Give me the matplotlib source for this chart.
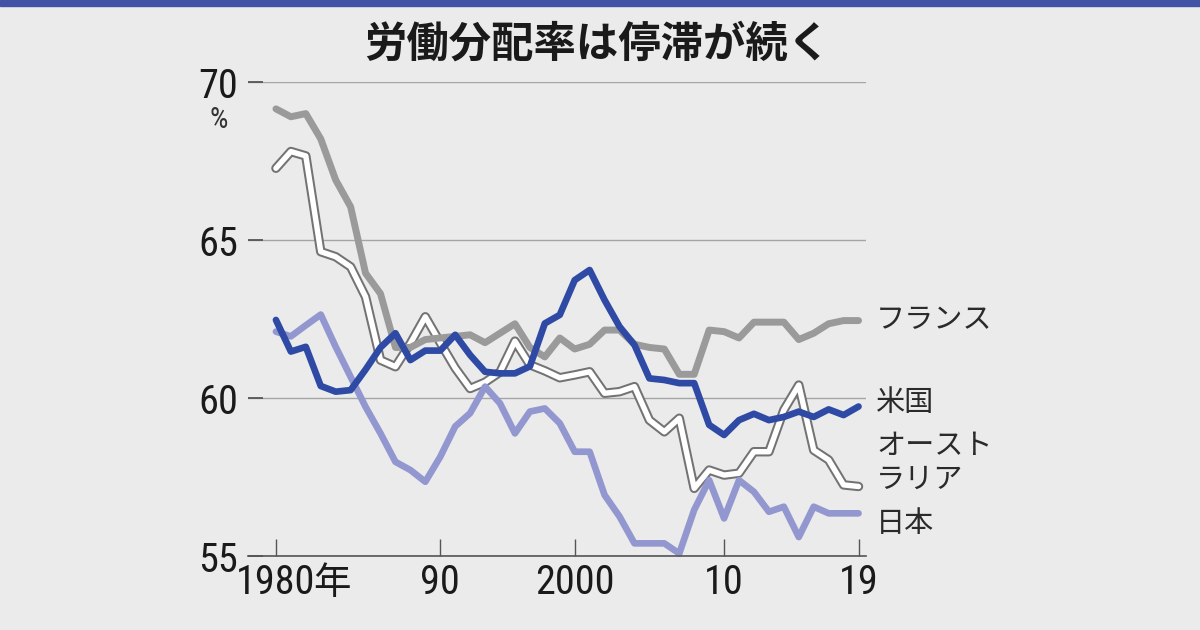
import matplotlib
matplotlib.use("Agg")
import matplotlib.pyplot as plt
from matplotlib import font_manager
from matplotlib.patches import Rectangle

years = list(range(1980, 2020))

france = [69.15, 68.9, 69.0, 68.2, 66.9, 66.05, 63.95, 63.3, 61.6, 61.6,
          61.85, 61.9, 61.95, 62.0, 61.75, 62.05, 62.35, 61.6, 61.3, 61.9,
          61.55, 61.7, 62.15, 62.15, 61.7, 61.6, 61.55, 60.75, 60.75, 62.15,
          62.1, 61.9, 62.4, 62.4, 62.4, 61.85, 62.05, 62.35, 62.45, 62.45]

usa = [62.47, 61.47, 61.62, 60.38, 60.2, 60.25, 60.9, 61.6, 62.05, 61.2,
       61.5, 61.5, 62.0, 61.36, 60.83, 60.78, 60.78, 61.0, 62.36, 62.63,
       63.73, 64.05, 63.1, 62.26, 61.68, 60.62, 60.57, 60.47, 60.47, 59.15,
       58.83, 59.3, 59.5, 59.3, 59.4, 59.57, 59.4, 59.64, 59.46, 59.73]

australia = [67.27, 67.8, 67.66, 64.63, 64.47, 64.15, 63.2, 61.2, 60.99, 61.73,
             62.57, 61.75, 60.95, 60.3, 60.5, 60.82, 61.8, 61.05, 60.86, 60.64,
             60.73, 60.83, 60.15, 60.2, 60.36, 59.3, 58.93, 59.36, 57.14, 57.72,
             57.56, 57.62, 58.3, 58.3, 59.62, 60.41, 58.35, 58.04, 57.25, 57.2]

japan = [62.1, 61.95, 62.3, 62.64, 61.62, 60.67, 59.72, 58.88, 57.98, 57.72,
         57.35, 58.14, 59.1, 59.52, 60.36, 59.83, 58.88, 59.57, 59.67, 59.2,
         58.3, 58.3, 56.93, 56.25, 55.4, 55.4, 55.4, 55.08, 56.46, 57.4,
         56.19, 57.4, 57.03, 56.4, 56.56, 55.6, 56.56, 56.35, 56.35, 56.35]

y_ticks = [55, 60, 65, 70]
x_tick_pos = [1980, 1991, 2000, 2010, 2019]
x_tick_labels = ["1980", "90", "2000", "10", "19"]

title = "労働分配率は停滞が続く"

# pick a narrow sans for the digits if one is there
installed = {f.name for f in font_manager.fontManager.ttflist}
num_font = "DejaVu Sans"
for cand in ["Liberation Sans Narrow", "Roboto Condensed", "Open Sans", "Noto Sans"]:
    if cand in installed:
        num_font = cand
        break
jp_font = "Noto Sans CJK JP"
plt.rcParams["font.family"] = [num_font, jp_font, "DejaVu Sans"]

bg = "#ebebeb"
fig = plt.figure(figsize=(12, 6.3), dpi=100, facecolor=bg)
ax = fig.add_axes([248 / 1200, 1 - 556 / 630, 618 / 1200, 474 / 630])
ax.set_facecolor(bg)

# blue band at the very top
fig.patches.append(Rectangle((0, 1 - 6 / 630), 1, 6 / 630, transform=fig.transFigure,
                             color="#4253a6", zorder=0))

for y in y_ticks:
    ax.axhline(y, color="#a5a5a5", lw=1.0, zorder=1)

kw = dict(solid_capstyle="round", solid_joinstyle="round", clip_on=False)
# australia: white line with a gray rim
ax.plot(years, australia, color="#737373", lw=6.8, zorder=2, **kw)
ax.plot(years, australia, color="white", lw=3.9, zorder=2.1, **kw)
ax.plot(years, france, color="#9a9a9a", lw=5.0, zorder=3, **kw)
ax.plot(years, japan, color="#9397d0", lw=4.8, zorder=4, **kw)
ax.plot(years, usa, color="#2f4aa4", lw=4.8, zorder=5, **kw)

ax.set_xlim(1978.13, 2019.5)
ax.set_ylim(55, 70)

for s in ["top", "right", "left"]:
    ax.spines[s].set_visible(False)
ax.spines["bottom"].set_color("#555555")
ax.spines["bottom"].set_linewidth(1.2)
ax.spines["bottom"].set_zorder(6)

ax.set_yticks(y_ticks)
ax.set_yticklabels([str(v) for v in y_ticks])
ax.tick_params(axis="y", direction="in", length=11, width=1.3, color="#555555",
               pad=7, labelsize=29, labelcolor="#1a1a1a")
ax.set_xticks(x_tick_pos)
ax.set_xticklabels(x_tick_labels)
ax.tick_params(axis="x", direction="in", length=12, width=1.0, color="#555555",
               pad=5, labelsize=29, labelcolor="#1a1a1a")

# 年 after 1980
ax.annotate("年", xy=(1980, 0), xycoords=("data", "axes fraction"),
            xytext=(37, -8), textcoords="offset pixels", ha="left", va="top",
            fontsize=27, color="#1a1a1a", family=[jp_font])

fig.text(219 / 1200, 1 - 120 / 630, "%", ha="center", va="center",
         fontsize=21, color="#333333")

fig.text(597 / 1200, 1 - 45 / 630, title, ha="center", va="center",
         fontsize=30.5, fontweight="bold", color="#1a1a1a", family=[jp_font])

lab = dict(ha="left", va="center", fontsize=21, color="#2a2a2a", family=[jp_font])
fig.text(876 / 1200, 1 - 320 / 630, "フランス", **lab)
fig.text(876 / 1200, 1 - 403 / 630, "米国", **lab)
fig.text(876 / 1200, 1 - 446 / 630, "オースト", **lab)
fig.text(876 / 1200, 1 - 480 / 630, "ラリア", **lab)
fig.text(876 / 1200, 1 - 524 / 630, "日本", **lab)

fig.savefig("out.png", dpi=100, facecolor=bg)
